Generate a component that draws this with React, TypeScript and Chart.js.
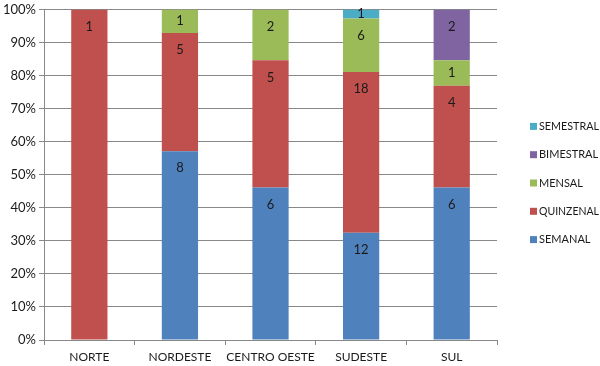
import React, { useEffect, useRef } from "react";
import { Chart, registerables } from "chart.js";

Chart.register(...registerables);

const categories = ["NORTE", "NORDESTE", "CENTRO OESTE", "SUDESTE", "SUL"];
const semanal = [0, 8, 6, 12, 6];
const quinzenal = [1, 5, 5, 18, 4];
const mensal = [0, 1, 2, 6, 1];
const bimestral = [0, 0, 0, 0, 2];
const semestral = [0, 0, 0, 1, 0];
const yTicks = [0, 10, 20, 30, 40, 50, 60, 70, 80, 90, 100];

const FONT = "Lato, 'Noto Sans', sans-serif";
const TEXT = "#1a1a1a";

const seriesDefs = [
  { label: "SEMANAL", counts: semanal, color: "#4F81BD" },
  { label: "QUINZENAL", counts: quinzenal, color: "#C0504D" },
  { label: "MENSAL", counts: mensal, color: "#9BBB59" },
  { label: "BIMESTRAL", counts: bimestral, color: "#8064A2" },
  { label: "SEMESTRAL", counts: semestral, color: "#4BACC6" },
];

const totals = categories.map((_, i) =>
  seriesDefs.reduce((s, d) => s + d.counts[i], 0)
);

const countLabels = {
  id: "countLabels",
  afterDatasetsDraw(chart: any) {
    const ctx = chart.ctx;
    ctx.save();
    ctx.font = `13px ${FONT}`;
    ctx.fillStyle = TEXT;
    ctx.textAlign = "center";
    ctx.textBaseline = "middle";
    chart.data.datasets.forEach((ds: any, di: number) => {
      const meta = chart.getDatasetMeta(di);
      meta.data.forEach((bar: any, i: number) => {
        const c = ds.counts[i];
        if (!c) return;
        const top = Math.min(bar.y, bar.base);
        const h = Math.abs(bar.base - bar.y);
        ctx.fillText(String(c), bar.x, top + Math.min(17, h / 2));
      });
    });
    ctx.restore();
  },
};

const sideLegend = {
  id: "sideLegend",
  afterDraw(chart: any) {
    const ctx = chart.ctx;
    const items = chart.data.datasets.slice().reverse();
    const spacing = 28.3;
    const x = chart.chartArea.right + 33;
    const cy = 183;
    const y0 = cy - (spacing * (items.length - 1)) / 2;
    ctx.save();
    ctx.font = `11px ${FONT}`;
    ctx.textBaseline = "middle";
    ctx.textAlign = "left";
    items.forEach((ds: any, k: number) => {
      const y = y0 + k * spacing;
      ctx.fillStyle = ds.backgroundColor;
      ctx.fillRect(x, y - 3.5, 7, 7);
      ctx.fillStyle = TEXT;
      ctx.fillText(ds.label, x + 9, y, 60);
    });
    ctx.restore();
  },
};

export default function App() {
  const ref = useRef<HTMLCanvasElement>(null);
  useEffect(() => {
    if (!ref.current) return;
    const chart = new Chart(ref.current, {
      type: "bar",
      data: {
        labels: categories,
        datasets: seriesDefs.map((d) => ({
          label: d.label,
          data: d.counts.map((c, i) => (c / totals[i]) * 100),
          counts: d.counts,
          backgroundColor: d.color,
          borderWidth: 0,
          barPercentage: 0.4,
          categoryPercentage: 1,
        })) as any,
      },
      options: {
        animation: false,
        responsive: true,
        maintainAspectRatio: false,
        layout: { padding: { top: 0, right: 103, bottom: 0, left: 0 } },
        plugins: {
          tooltip: { enabled: false },
          legend: { display: false },
        },
        scales: {
          x: {
            stacked: true,
            afterFit: (axis: any) => {
              axis.height = 26;
            },
            grid: {
              display: true,
              drawOnChartArea: false,
              offset: true,
              tickLength: 5,
              color: "#888888",
            },
            border: { color: "#888888" },
            ticks: {
              color: TEXT,
              font: { family: FONT, size: 12, lineHeight: 1 },
              padding: 6,
              maxRotation: 0,
              minRotation: 0,
              autoSkip: false,
            },
          },
          y: {
            stacked: true,
            min: 0,
            max: 100,
            afterBuildTicks: (axis: any) => {
              axis.ticks = yTicks.map((v) => ({ value: v }));
            },
            grid: { color: "#888888", tickLength: 5 },
            border: { color: "#888888" },
            ticks: {
              color: TEXT,
              font: { family: FONT, size: 13, lineHeight: 1 },
              padding: 3,
              callback: (v: any) => v + "%",
            },
          },
        },
      },
      plugins: [countLabels, sideLegend],
    });
    return () => chart.destroy();
  }, []);
  return (
    <div style={{ position: "fixed", left: 0, top: 0, width: 600, height: 366, background: "#fff" }}>
      <canvas ref={ref} />
    </div>
  );
}
